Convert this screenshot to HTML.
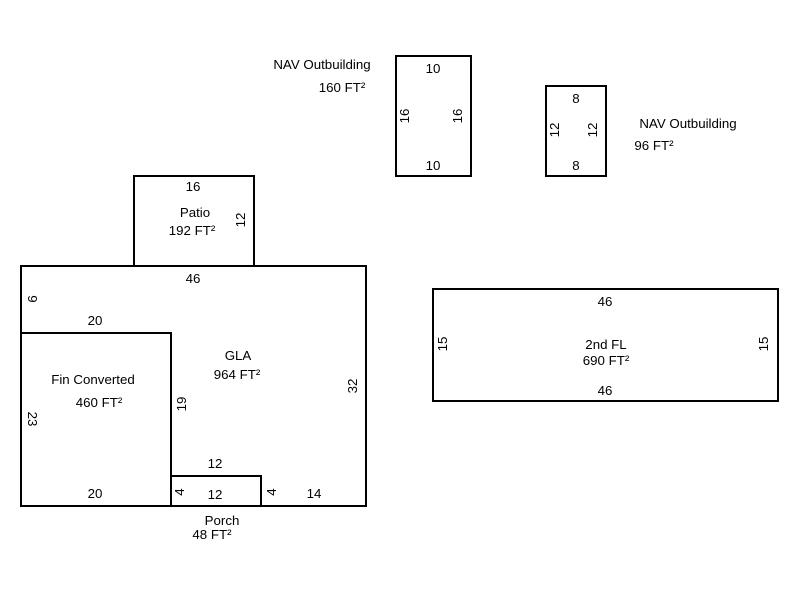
<!DOCTYPE html>
<html><head><style>
html,body{margin:0;padding:0;background:#fff;}
svg{display:block;}
text{font-family:"Liberation Sans",Arial,sans-serif;font-size:13.3px;fill:#000;}
</style></head><body>
<svg width="800" height="600" viewBox="0 0 800 600" xmlns="http://www.w3.org/2000/svg">
<g fill="none" stroke="#000" stroke-width="2">
<rect x="396" y="56" width="75" height="120"/>
<rect x="546" y="86" width="60" height="90"/>
<rect x="134" y="176" width="120" height="90"/>
<rect x="21" y="266" width="345" height="240"/>
<polyline points="21,333 171,333 171,506"/>
<rect x="171" y="476" width="90" height="30"/>
<rect x="433" y="289" width="345" height="112"/>
</g>
<g text-anchor="middle">
<text x="322" y="69">NAV Outbuilding</text>
<text x="342" y="92">160 FT²</text>
<text x="433" y="73">10</text>
<text x="433" y="170">10</text>
<text transform="translate(409,116) rotate(-90)">16</text>
<text transform="translate(462,116) rotate(-90)">16</text>
<text x="576" y="103">8</text>
<text x="576" y="170">8</text>
<text transform="translate(559,130) rotate(-90)">12</text>
<text transform="translate(597,130) rotate(-90)">12</text>
<text x="688" y="128">NAV Outbuilding</text>
<text x="654" y="150">96 FT²</text>
<text x="193" y="191">16</text>
<text x="195" y="217">Patio</text>
<text x="192" y="235">192 FT²</text>
<text transform="translate(245,220) rotate(-90)">12</text>
<text x="193" y="283">46</text>
<text transform="translate(28,299) rotate(90)">9</text>
<text x="95" y="325">20</text>
<text x="238" y="360">GLA</text>
<text x="237" y="379">964 FT²</text>
<text x="93" y="384">Fin Converted</text>
<text x="99" y="407">460 FT²</text>
<text transform="translate(28,419) rotate(90)">23</text>
<text transform="translate(186,404) rotate(-90)">19</text>
<text transform="translate(357,386) rotate(-90)">32</text>
<text x="215" y="468">12</text>
<text x="215" y="499">12</text>
<text x="95" y="498">20</text>
<text transform="translate(184,492) rotate(-90)">4</text>
<text transform="translate(276,492) rotate(-90)">4</text>
<text x="314" y="498">14</text>
<text x="222" y="525">Porch</text>
<text x="212" y="539">48 FT²</text>
<text x="605" y="306">46</text>
<text x="605" y="395">46</text>
<text transform="translate(447,344) rotate(-90)">15</text>
<text transform="translate(768,344) rotate(-90)">15</text>
<text x="606" y="349">2nd FL</text>
<text x="606" y="365">690 FT²</text>
</g>
</svg>
</body></html>
